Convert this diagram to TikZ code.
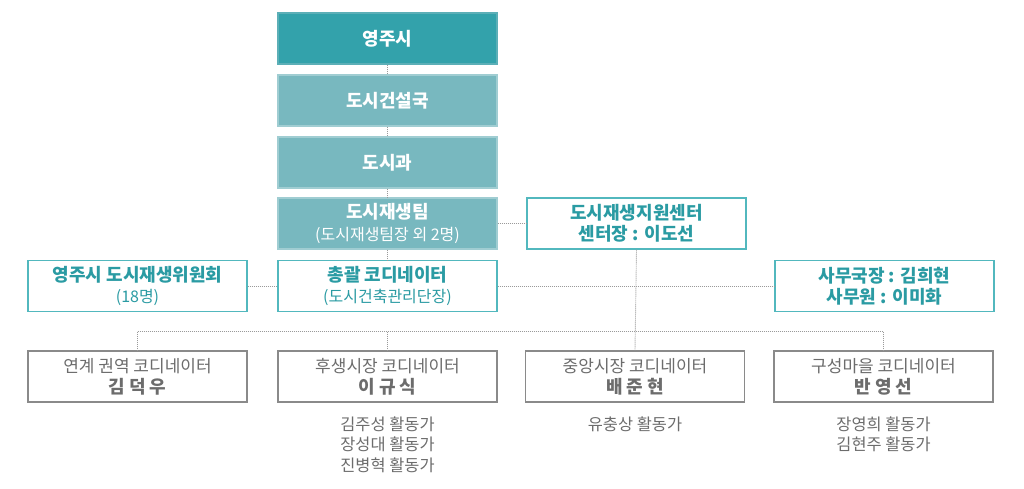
\documentclass[tikz,border=0pt]{standalone}
\usepackage{fontspec}
\setmainfont{Noto Sans CJK KR}
\definecolor{tealdark}{HTML}{33A2AB}
\definecolor{teallight}{HTML}{78B8BF}
\definecolor{tealline}{HTML}{52B8BE}
\definecolor{tealtext}{HTML}{2A9BA3}
\definecolor{graybox}{HTML}{8A8A8A}
\definecolor{graytext}{HTML}{6C6C6C}
\definecolor{dotcol}{HTML}{9A9A9A}
\begin{document}
\begin{tikzpicture}[x=1pt,y=-1pt,
  base/.style={rectangle, minimum width=219pt, minimum height=51pt, inner sep=0pt, align=center, line width=1.4pt},
  topbox/.style={base, fill=tealdark, draw=teallight!60!tealdark, text=white, font=\fontsize{18}{21.5}\bfseries\selectfont},
  midbox/.style={base, fill=teallight, draw=teallight!70!white, text=white, font=\fontsize{18}{21.5}\bfseries\selectfont},
  whitebox/.style={base, fill=white, draw=tealline, text=tealtext, font=\fontsize{18}{21.5}\bfseries\selectfont},
  graybx/.style={base, fill=white, draw=graybox, line width=1.2pt, text=graytext, font=\fontsize{17}{21}\selectfont},
  dots/.style={draw=dotcol, line width=0.9pt, dash pattern=on 1pt off 1pt},
  actv/.style={text=graytext, align=center, font=\fontsize{16.4}{20.5}\selectfont, inner sep=0pt}
]
\useasboundingbox (0,0) rectangle (1024,489);
% top column
\node[topbox] (yj) at (387.5,38.5) {영주시};
\node[midbox] (gs) at (387.5,100.5) {도시건설국};
\node[midbox] (gw) at (387.5,162.5) {도시과};
\node[midbox] (team) at (387.5,223.5) {도시재생팀\\{\fontsize{16}{21.5}\mdseries\selectfont (도시재생팀장 외 2명)}};
\node[whitebox] (ctr) at (636.5,223.5) {도시재생지원센터\\센터장 : 이도선};
\node[whitebox] (comm) at (137.5,286) {영주시 도시재생위원회\\{\fontsize{16}{21.5}\mdseries\selectfont (18명)}};
\node[whitebox] (coord) at (387.5,286) {총괄 코디네이터\\{\fontsize{16}{21.5}\mdseries\selectfont (도시건축관리단장)}};
\node[whitebox] (off) at (884.5,286) {사무국장 : 김희현\\사무원 : 이미화};
% bottom boxes
\node[graybx] (b1) at (137.5,376.5) {연계 권역 코디네이터\\{\fontsize{18}{21}\bfseries\selectfont 김 덕 우}};
\node[graybx] (b2) at (387.5,376.5) {후생시장 코디네이터\\{\fontsize{18}{21}\bfseries\selectfont 이 규 식}};
\node[graybx] (b3) at (635,376.5) {중앙시장 코디네이터\\{\fontsize{18}{21}\bfseries\selectfont 배 준 현}};
\node[graybx] (b4) at (883.5,376.5) {구성마을 코디네이터\\{\fontsize{18}{21}\bfseries\selectfont 반 영 선}};
% activists
\node[actv, anchor=north] (a2) at (387.5,416.5) {김주성 활동가\\장성대 활동가\\진병혁 활동가};
\node[actv, anchor=north] (a3) at (635,416.5) {유충상 활동가};
\node[actv, anchor=north] (a4) at (883.5,416.5) {장영희 활동가\\김현주 활동가};
% connectors
\draw[dots] (yj.south) -- (gs.north);
\draw[dots] (gs.south) -- (gw.north);
\draw[dots] (gw.south) -- (team.north);
\draw[dots] (team.south) -- (coord.north);
\draw[dots] (team.east) -- (ctr.west);
\draw[dots] (comm.east) -- (coord.west);
\draw[dots] (coord.east) -- (off.west);
\coordinate (busL) at (137.5,331.5);
\coordinate (busM) at (387.5,331.5);
\coordinate (busR) at (883.5,331.5);
\draw[dots] (ctr.south) -- (b3.north);
\draw[dots] (busL) -- (busR);
\draw[dots] (busL) -- (b1.north);
\draw[dots] (busM) -- (b2.north);
\draw[dots] (busR) -- (b4.north);
\end{tikzpicture}
\end{document}
